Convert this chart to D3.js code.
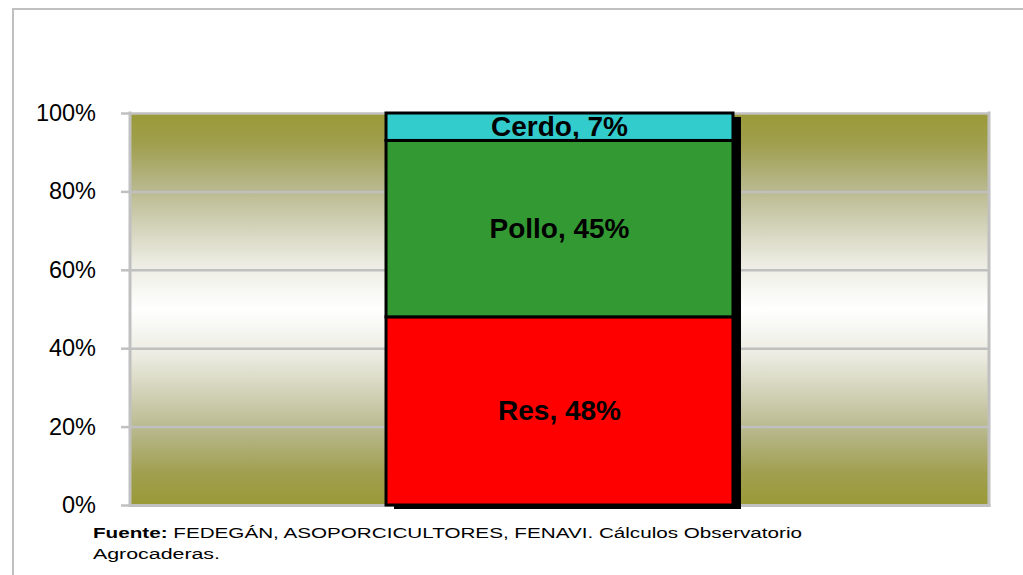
<!DOCTYPE html>
<html>
<head>
<meta charset="utf-8">
<script src="https://cdn.jsdelivr.net/npm/d3@7/dist/d3.min.js"></script>
<style>
  html, body { margin: 0; padding: 0; background: #ffffff; }
  svg { display: block; }
  text { font-family: "Liberation Sans", Arial, sans-serif; }
</style>
</head>
<body>
<svg id="chart" width="1023" height="575"></svg>
<script>
// ---- Data ----
const categories = ["Participación"];
const seriesNames = ["Res", "Pollo", "Cerdo"];
const seriesValues = [48, 45, 7];
const seriesColors = ["#ff0000", "#339933", "#33cccc"];
const tickValues = [0, 20, 40, 60, 80, 100];
const sourceBold = "Fuente:";
const sourceLine1 = " FEDEGÁN, ASOPORCICULTORES, FENAVI. Cálculos Observatorio";
const sourceLine2 = "Agrocaderas.";

// ---- Layout ----
const W = 1023, H = 575;
const plot = { left: 131, right: 988, top: 113, bottom: 505 };
const svg = d3.select("#chart");

// outer frame
svg.append("line").attr("x1", 12).attr("x2", W).attr("y1", 9).attr("y2", 9)
  .attr("stroke", "#c0c0c0").attr("stroke-width", 2);
svg.append("line").attr("x1", 13).attr("x2", 13).attr("y1", 8).attr("y2", H)
  .attr("stroke", "#c0c0c0").attr("stroke-width", 2);

const y = d3.scaleLinear().domain([0, 100]).range([plot.bottom, plot.top]);
const x = d3.scaleBand().domain(categories).range([plot.left, plot.right])
  .paddingInner(0).paddingOuter(0.735);

// gradient background
const defs = svg.append("defs");
const grad = defs.append("linearGradient").attr("id", "bg")
  .attr("x1", 0).attr("x2", 0).attr("y1", 0).attr("y2", 1);
[[0, "#9a9a38"], [0.08, "#a09f4e"], [0.18, "#b5b587"], [0.28, "#d0d0b5"],
 [0.38, "#ebebe1"], [0.5, "#ffffff"], [0.62, "#ebebe1"], [0.72, "#d0d0b5"],
 [0.82, "#b5b587"], [0.92, "#a09f4e"], [1, "#9a9a38"]]
  .forEach(([o, c]) => grad.append("stop").attr("offset", o).attr("stop-color", c));

svg.append("rect")
  .attr("x", plot.left).attr("y", y(100))
  .attr("width", plot.right - plot.left).attr("height", y(0) - y(100))
  .attr("fill", "url(#bg)");

// gridlines
svg.append("g")
  .attr("transform", `translate(${plot.left},0)`)
  .call(d3.axisLeft(y).tickValues(tickValues.filter(d => d > 0))
    .tickSize(-(plot.right - plot.left)).tickFormat(""))
  .call(g => g.select(".domain").remove())
  .call(g => g.selectAll(".tick line").attr("stroke", "#c0c0c0").attr("stroke-width", 2.5));

// right border & bottom
svg.append("line").attr("x1", plot.right + 1).attr("x2", plot.right + 1)
  .attr("y1", y(100) - 1.5).attr("y2", y(0) + 1.5)
  .attr("stroke", "#c0c0c0").attr("stroke-width", 3);
svg.append("line").attr("x1", plot.left).attr("x2", plot.right + 2.5)
  .attr("y1", y(0) + 0.5).attr("y2", y(0) + 0.5)
  .attr("stroke", "#c0c0c0").attr("stroke-width", 3);

// y axis
const yAxis = svg.append("g")
  .attr("transform", `translate(${plot.left - 1},0)`)
  .call(d3.axisLeft(y).tickValues(tickValues).tickFormat(d => d + "%")
    .tickSize(9).tickSizeOuter(0).tickPadding(25));
yAxis.select(".domain").attr("stroke", "#c0c0c0").attr("stroke-width", 3)
  .attr("d", `M0,${y(100) - 1.5}V${y(0) + 2}`);
yAxis.selectAll(".tick line").attr("stroke", "#c0c0c0").attr("stroke-width", 2.5);
yAxis.selectAll(".tick text").attr("font-size", 23.5).attr("fill", "#000")
  .attr("font-family", "'Liberation Sans', Arial, sans-serif");

// stacked bar
const stackData = [Object.fromEntries(seriesNames.map((n, i) => [n, seriesValues[i]]))];
const stacked = d3.stack().keys(seriesNames)(stackData);
const bx = x(categories[0]);
const bw = x.bandwidth();

// shadow
svg.append("rect")
  .attr("x", bx + 8).attr("y", y(100) + 4)
  .attr("width", bw).attr("height", y(0) - y(100))
  .attr("fill", "#000");

const seg = svg.append("g");
stacked.forEach((s, i) => {
  const d = s[0];
  seg.append("rect")
    .attr("x", bx).attr("y", y(d[1]))
    .attr("width", bw).attr("height", y(d[0]) - y(d[1]))
    .attr("fill", seriesColors[i])
    .attr("stroke", "#000").attr("stroke-width", 3);
});
stacked.forEach((s, i) => {
  const d = s[0];
  seg.append("text")
    .attr("x", bx + bw / 2).attr("y", (y(d[0]) + y(d[1])) / 2)
    .attr("text-anchor", "middle").attr("dominant-baseline", "central")
    .attr("font-size", 28).attr("font-weight", "bold").attr("fill", "#000")
    .text(`${seriesNames[i]}, ${seriesValues[i]}%`);
});

// source
const src = svg.append("text").attr("x", 93).attr("y", 538)
  .attr("font-size", 14).attr("fill", "#000")
  .attr("textLength", 709).attr("lengthAdjust", "spacingAndGlyphs");
src.append("tspan").attr("font-weight", "bold").text(sourceBold);
src.append("tspan").text(sourceLine1);
svg.append("text").attr("x", 93).attr("y", 559)
  .attr("font-size", 14).attr("fill", "#000")
  .attr("textLength", 127).attr("lengthAdjust", "spacingAndGlyphs")
  .text(sourceLine2);
</script>
</body>
</html>
